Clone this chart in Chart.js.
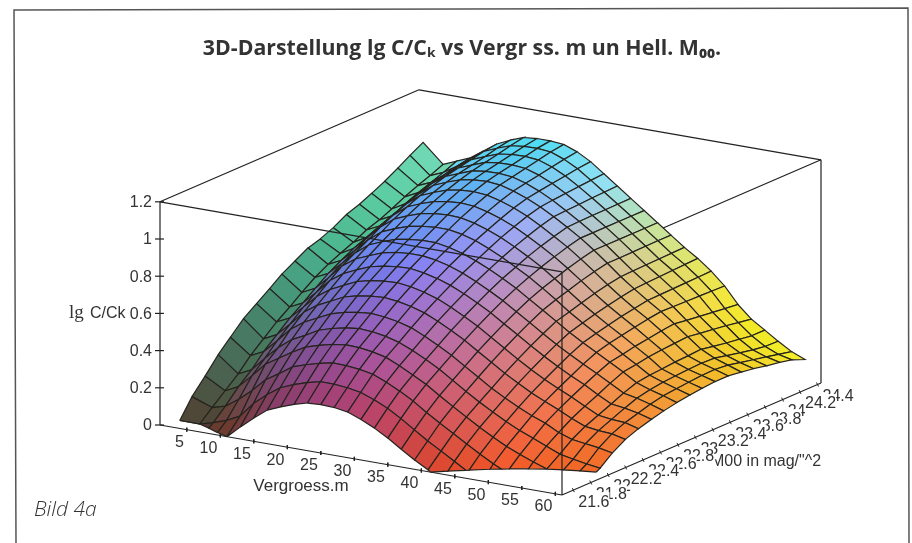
<!DOCTYPE html>
<html>
<head>
<meta charset="utf-8">
<title>3D-Darstellung lg C/Ck</title>
<script src="https://cdn.jsdelivr.net/npm/chart.js@4/dist/chart.umd.js"></script>
<style>
body{margin:0;background:#fff;}
#wrap{position:relative;width:912px;height:543px;}
canvas{filter:blur(0.35px);}
</style>
</head>
<body>
<div id="wrap"><canvas id="surface" width="912" height="543"></canvas></div>
<script>
// Vergroesserung m, one value per mesh column
const mValues = [2,5,7,9,11,13,15,17,19,21,23,25,27,29,31,33,35,37,39,41,43,45,47,49,51,53,55,57,59];
// Helligkeit M00, one value per mesh row
const m00Values = [21.47,21.62,21.76,21.91,22.06,22.2,22.35,22.5,22.65,22.79,22.94,23.09,23.23,23.38,23.53,23.68,23.82,23.97,24.12,24.26,24.41];
// lg C/Ck, one list per M00 row
const lgC = [
[-.12,-.06,-.04,-.02,0,.065,.125,.18,.21,.236,.256,.26,.257,.245,.218,.184,.143,.095,.05,.01,-.037,-.083,-.13,-.17,-.207,-.24,-.255,-.265,-.27],
[0,0,.02,.045,.08,.16,.22,.27,.3,.323,.34,.34,.333,.32,.293,.26,.217,.169,.122,.08,.037,-.007,-.05,-.087,-.12,-.15,-.17,-.175,-.17],
[.1,.06,.08,.13,.19,.26,.305,.354,.378,.398,.413,.411,.403,.39,.359,.324,.283,.234,.189,.146,.102,.06,.02,-.013,-.043,-.07,-.088,-.095,-.09],
[.18,.12,.155,.225,.3,.345,.39,.43,.452,.469,.48,.477,.467,.45,.417,.38,.342,.294,.248,.204,.161,.121,.084,.053,.025,0,-.012,-.022,-.03],
[.265,.18,.215,.29,.36,.415,.45,.49,.512,.528,.537,.532,.52,.5,.469,.433,.393,.346,.299,.254,.213,.174,.139,.11,.08,.05,.035,.022,.012],
[.33,.25,.285,.355,.43,.48,.515,.55,.57,.583,.59,.583,.57,.55,.517,.48,.44,.393,.347,.3,.26,.223,.19,.163,.125,.1,.09,.08,.065],
[.4,.31,.345,.415,.49,.54,.575,.61,.629,.64,.645,.637,.622,.6,.567,.53,.49,.443,.397,.35,.309,.27,.236,.205,.17,.14,.13,.125,.108],
[.45,.37,.405,.475,.545,.595,.63,.663,.68,.69,.694,.685,.668,.645,.612,.575,.535,.488,.442,.395,.352,.312,.276,.243,.205,.17,.16,.155,.135],
[.5,.42,.455,.525,.6,.65,.683,.712,.728,.737,.74,.729,.711,.687,.654,.617,.577,.53,.484,.437,.393,.351,.313,.278,.237,.2,.19,.175,.155],
[.55,.47,.505,.575,.65,.7,.73,.758,.773,.78,.78,.769,.75,.724,.691,.654,.614,.567,.521,.474,.429,.387,.348,.31,.27,.23,.215,.195,.172],
[.59,.52,.555,.62,.69,.745,.775,.8,.813,.82,.82,.807,.787,.76,.727,.69,.65,.603,.557,.51,.463,.42,.38,.34,.3,.255,.23,.21,.186],
[.63,.56,.595,.66,.73,.785,.815,.84,.853,.86,.86,.847,.825,.795,.76,.72,.68,.633,.583,.53,.483,.44,.4,.353,.31,.265,.24,.218,.196],
[.65,.59,.63,.7,.77,.825,.855,.88,.893,.898,.895,.879,.855,.826,.789,.749,.706,.655,.603,.55,.502,.456,.413,.367,.322,.27,.245,.224,.204],
[.68,.62,.66,.735,.805,.86,.89,.914,.927,.932,.927,.909,.885,.854,.816,.775,.73,.68,.626,.57,.519,.472,.427,.378,.33,.277,.25,.23,.21],
[.72,.656,.69,.765,.835,.89,.92,.945,.958,.962,.956,.937,.912,.88,.84,.797,.752,.7,.645,.587,.534,.485,.44,.389,.335,.28,.253,.232,.21],
[.745,.68,.715,.79,.86,.915,.945,.97,.983,.987,.98,.96,.933,.9,.86,.816,.77,.717,.66,.6,.547,.497,.45,.397,.34,.285,.25,.225,.2],
[.775,.71,.75,.82,.885,.935,.963,.99,1,1.002,.995,.974,.944,.907,.864,.818,.77,.717,.66,.602,.55,.499,.448,.387,.33,.272,.235,.21,.19],
[.81,.745,.78,.84,.9,.95,.978,1.005,1.015,1.017,1.01,.987,.955,.913,.867,.82,.77,.717,.661,.604,.554,.501,.446,.378,.32,.26,.22,.195,.175],
[.85,.775,.805,.86,.915,.965,.993,1.02,1.03,1.032,1.025,1,.965,.92,.871,.821,.77,.717,.662,.606,.557,.503,.444,.369,.31,.25,.205,.18,.163],
[.89,.8,.83,.875,.93,.98,1.01,1.036,1.045,1.047,1.04,1.013,.975,.925,.874,.822,.77,.717,.663,.608,.56,.505,.442,.361,.298,.24,.195,.165,.148],
[.93,.83,.86,.89,.94,.99,1.023,1.05,1.057,1.057,1.05,1.023,.983,.93,.877,.823,.77,.717,.663,.61,.563,.507,.44,.353,.287,.24,.193,.15,.12]
];
const mTicks = [5,10,15,20,25,30,35,40,45,50,55,60];
const m00Ticks = [21.6,21.8,22,22.2,22.4,22.6,22.8,23,23.2,23.4,23.6,23.8,24,24.2,24.4];
const zTicks = [0,0.2,0.4,0.6,0.8,1,1.2];

const mMin = 1, mMax = 61;
const m00Min = 21.47, m00Max = 24.44;
const zMax = 1.2;

// parallel projection of the plot box, worked out from its corners
function project(m, m00, z){
    const a = (m - mMin) / (mMax - mMin);
    const b = (m00 - m00Min) / (m00Max - m00Min);
    return {
        x: 160 + a * 402 + b * 259,
        y: 425 + a * 70 - b * 112 - z * 186
    };
}

function clamp(v, lo, hi){
    return Math.max(lo, Math.min(hi, v));
}

// colour wanders with m, M00 and height, the steep strip at small m is greener
function cellColor(m, m00, z){
    const t = (m00 - m00Min) / (m00Max - m00Min);
    let r, g, b;
    if(m < 8){
        r = 0.33 - 0.3 * t + 0.42 * t * t;
        g = 0.2 + 0.65 * t + 0.5 * t * (1 - t);
        b = 0.2 + 0.58 * z;
    } else {
        let tilt = 0;
        if(m < 20) tilt = -0.15 + 0.42 * (m - 2) / 18;
        else if(m < 40) tilt = 0.27 * (40 - m) / 20;
        r = 0.3 + 0.0135 * m - tilt * t;
        g = 0.2 + 0.65 * t + 0.1 * m / 60;
        const fade = clamp((m - 25) / 35, 0, 1) * t * 0.9;
        b = (0.16 + 1.05 * z) * (1 - fade);
    }
    const to255 = v => Math.round(clamp(v, 0.16, 0.95) * 255);
    return `rgb(${to255(r)},${to255(g)},${to255(b)})`;
}

// cut a cell at the floor, the surface is not drawn below lg C/Ck = 0
function clipFloor(verts){
    const out = [];
    for(let i = 0; i < verts.length; i++){
        const p = verts[i];
        const q = verts[(i + 1) % verts.length];
        if(p.z >= 0) out.push(p);
        if((p.z >= 0) !== (q.z >= 0)){
            const f = p.z / (p.z - q.z);
            out.push({ m: p.m + (q.m - p.m) * f, M: p.M + (q.M - p.M) * f, z: 0 });
        }
    }
    return out;
}

function lineSet(points, width, color){
    return {
        data: points,
        showLine: true,
        pointRadius: 0,
        borderWidth: width,
        borderColor: color,
        fill: false,
        clip: false
    };
}

const boxColor = "#222";
const backLines = [];
const frontLines = [];

function boxLine(list, from, to){
    list.push(lineSet([project(...from), project(...to)], 1.2, boxColor));
}

// back of the box goes behind the surface
boxLine(backLines, [mMin, m00Min, zMax], [mMin, m00Max, zMax]);
boxLine(backLines, [mMin, m00Max, zMax], [mMax, m00Max, zMax]);
boxLine(backLines, [mMax, m00Max, zMax], [mMax, m00Max, 0]);
boxLine(backLines, [mMax, m00Max, zMax], [mMax, m00Min, zMax]);
boxLine(backLines, [mMax, m00Min, 0], [mMax, m00Max, 0]);
boxLine(backLines, [mMin, m00Min, 0], [mMax, m00Min, 0]);

// these run over it
boxLine(frontLines, [mMin, m00Min, zMax], [mMax, m00Min, zMax]);
boxLine(frontLines, [mMax, m00Min, zMax], [mMax, m00Min, 0]);
boxLine(frontLines, [mMin, m00Min, 0], [mMin, m00Min, zMax]);

zTicks.forEach(z => {
    const p = project(mMin, m00Min, z);
    frontLines.push(lineSet([{x: p.x - 5, y: p.y}, {x: p.x + 4, y: p.y}], 1.2, boxColor));
});
mTicks.forEach(m => {
    const p = project(m, m00Min, 0);
    frontLines.push(lineSet([{x: p.x, y: p.y - 2}, {x: p.x, y: p.y + 2}], 1, boxColor));
});
m00Ticks.forEach(v => {
    const p = project(mMax, v, 0);
    frontLines.push(lineSet([{x: p.x - 1, y: p.y - 2}, {x: p.x + 1, y: p.y + 2}], 1, boxColor));
});

// painter's order: far rows and small m first
const cells = [];
for(let i = m00Values.length - 2; i >= 0; i--){
    for(let j = 0; j < mValues.length - 1; j++){
        const corners = [[i,j],[i,j+1],[i+1,j+1],[i+1,j]].map(c => ({
            m: mValues[c[1]], M: m00Values[c[0]], z: lgC[c[0]][c[1]]
        }));
        const kept = clipFloor(corners);
        if(kept.length < 3) continue;
        const pts = kept.map(v => project(v.m, v.M, v.z));
        pts.push(pts[0]);
        const mid = corners.reduce((s, v) => ({ m: s.m + v.m / 4, M: s.M + v.M / 4, z: s.z + Math.max(v.z, 0) / 4 }), { m: 0, M: 0, z: 0 });
        cells.push({
            data: pts,
            showLine: true,
            pointRadius: 0,
            borderWidth: 1.2,
            borderColor: "#26241f",
            backgroundColor: cellColor(mid.m, mid.M, mid.z),
            fill: "shape",
            clip: false
        });
    }
}

// Chart.js paints dataset 0 last
const datasets = backLines.concat(cells, frontLines).reverse();

const labelFont = '16px "Liberation Sans"';
const labelColor = "#333";

const textPlugin = {
    id: "boxText",
    beforeDraw(chart){
        const c = chart.ctx;
        c.save();
        c.strokeStyle = "#555";
        c.lineWidth = 1.5;
        c.beginPath();
        c.moveTo(16, 543);
        c.lineTo(14, 10);
        c.lineTo(908, 8);
        c.lineTo(909, 543);
        c.stroke();
        c.restore();
    },
    afterDraw(chart){
        const c = chart.ctx;
        const sx = chart.scales.x, sy = chart.scales.y;
        const at = (m, v, z) => {
            const p = project(m, v, z);
            return { x: sx.getPixelForValue(p.x), y: sy.getPixelForValue(p.y) };
        };
        c.save();
        c.fillStyle = labelColor;
        c.font = labelFont;
        c.textBaseline = "middle";

        c.textAlign = "right";
        zTicks.forEach(z => {
            const p = at(mMin, m00Min, z);
            c.fillText(String(z), p.x - 8, p.y + 1);
        });
        mTicks.forEach(m => {
            const p = at(m, m00Min, 0);
            c.fillText(String(m), p.x - 3, p.y + 13);
        });

        c.textAlign = "center";
        c.font = '17px "Liberation Sans"';
        c.fillText("Vergroess.m", 301, 486);

        // axis name sits under the tick labels
        c.textAlign = "left";
        c.font = labelFont;
        c.fillText('M00 in mag/"^2', 711, 462);

        // high to low, each white label box hides part of the one before
        for(let i = m00Ticks.length - 1; i >= 0; i--){
            const p = at(mMax, m00Ticks[i], 0);
            const t = String(m00Ticks[i]);
            const w = c.measureText(t).width;
            c.fillStyle = "#fff";
            c.fillRect(p.x + 5, p.y + 2, w, 20);
            c.fillStyle = labelColor;
            c.fillText(t, p.x + 5, p.y + 12);
        }

        c.font = '19px "Liberation Serif"';
        c.fillText("lg", 69, 313);
        c.font = labelFont;
        c.fillText("C/Ck", 90, 314);

        c.font = 'italic 300 21px "Open Sans"';
        c.fillStyle = "#333";
        c.fillText("Bild 4a", 34, 510);
        c.restore();
    }
};

new Chart(document.getElementById("surface"), {
    type: "scatter",
    data: { datasets: datasets },
    plugins: [textPlugin],
    options: {
        responsive: false,
        animation: false,
        events: [],
        layout: { padding: { left: 12 } },
        plugins: {
            legend: { display: false },
            tooltip: { enabled: false },
            title: {
                display: true,
                text: "3D-Darstellung lg C/Cₖ vs Vergr ss. m un Hell. M₀₀.",
                color: "#333",
                font: { family: '"Open Sans"', size: 21.3, weight: "700", lineHeight: 1.2 },
                padding: { top: 36, bottom: 8.44 }
            }
        },
        scales: {
            x: { type: "linear", display: false, min: 12, max: 912 },
            y: { type: "linear", display: false, min: 70, max: 543, reverse: true }
        }
    }
});
</script>
</body>
</html>
